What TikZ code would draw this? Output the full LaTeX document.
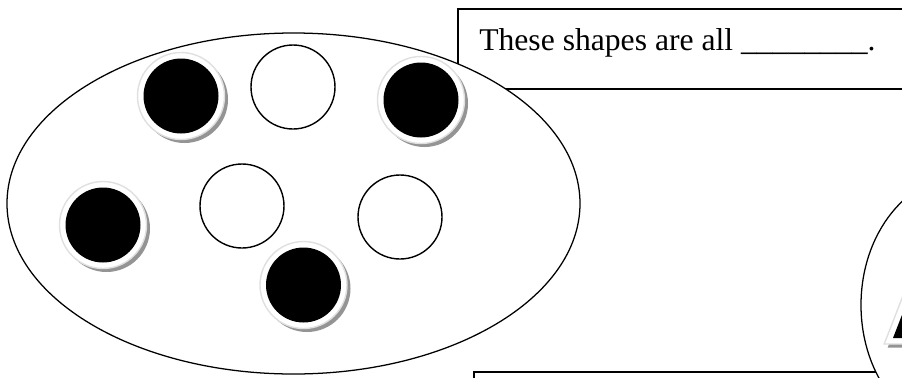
\documentclass[tikz,border=0pt]{standalone}
\usepackage{fontspec}
\setmainfont{Liberation Serif}
\begin{document}
\begin{tikzpicture}[
        x=0.025cm, y=-0.025cm,
        % --- Shape styles ---
        outline/.style={draw=black, line width=0.9pt, fill=white},
        framebox/.style={draw=black, line width=1.1pt, fill=white},
        plainring/.style={draw=black, line width=1pt, fill=white},
        dotshadow/.style={fill=black!42},
        dotring/.style={fill=white, draw=black!12, line width=1pt},
        dotcore/.style={fill=black},
        caption/.style={font=\fontsize{22.5}{27}\selectfont, anchor=base west, inner sep=0pt},
    ]

    % ===== Page =====
    \useasboundingbox (0,0) rectangle (902,377);
    \clip (0,0) rectangle (902,377);

    % ===== Text boxes =====
    \draw[framebox] (458,9) rectangle (920,89);
    \node[caption] (question) at (479,50) {These shapes are all \_\_\_\_\_\_\_\_.};
    \draw[framebox] (474,372) rectangle (920,400);

    % ===== Big set =====
    \draw[outline] (293.5,203.5) ellipse [x radius=286.5, y radius=170.5];

    % ===== Black dots =====
    \fill[dotshadow] (184.5,99.5) circle [radius=43.5];
    \draw[dotring] (181,96) circle [radius=43.5];
    \fill[dotcore] (181,96) circle [radius=37.5];

    \fill[dotshadow] (424.5,103.5) circle [radius=43.5];
    \draw[dotring] (421,100) circle [radius=43.5];
    \fill[dotcore] (421,100) circle [radius=37.5];

    \fill[dotshadow] (106.5,228.5) circle [radius=43.5];
    \draw[dotring] (103,225) circle [radius=43.5];
    \fill[dotcore] (103,225) circle [radius=37.5];

    \fill[dotshadow] (307,288.5) circle [radius=43.5];
    \draw[dotring] (303.5,285) circle [radius=43.5];
    \fill[dotcore] (303.5,285) circle [radius=37.5];

    % ===== White dots =====
    \draw[plainring] (293,87) circle [radius=42];
    \draw[plainring] (242,206) circle [radius=42];
    \draw[plainring] (400,217) circle [radius=42];

    % ===== Second set (cut off at the right) =====
    \draw[outline] (965,305) ellipse [x radius=104, y radius=130];
    \fill[dotshadow] (887.7,347.5) -- (924.5,252.9) -- (961.3,347.5) -- cycle;
    \draw[dotring] (884.2,344) -- (921,249.4) -- (957.8,344) -- cycle;
    \fill[dotcore] (893,338) -- (921,266) -- (949,338) -- cycle;

\end{tikzpicture}
\end{document}
